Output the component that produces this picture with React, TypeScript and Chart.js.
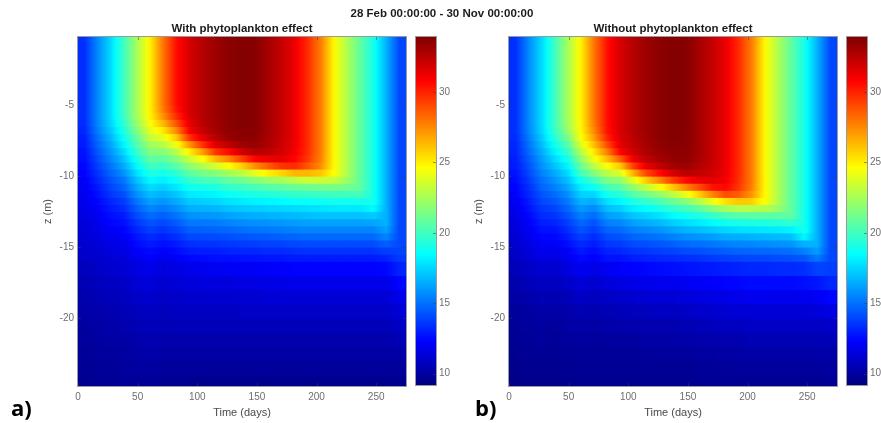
import React, { useEffect, useRef } from 'react';
import { Chart, registerables } from 'chart.js';

Chart.register(...registerables);

// ---------- text ----------
const MAIN_TITLE = '28 Feb 00:00:00 - 30 Nov 00:00:00';
const PANEL_TITLES = ['With phytoplankton effect', 'Without phytoplankton effect'];
const PANEL_LABELS = ['a)', 'b)'];
const X_LABEL = 'Time (days)';
const Y_LABEL = 'z (m)';

// ---------- axes ----------
const TIME_RANGE = [0, 275];
const DEPTH_RANGE = [-24.8, -0.2];
const TEMP_RANGE = [9.2, 33.9];
const X_TICKS = [0, 50, 100, 150, 200, 250];
const Y_TICKS = [-20, -15, -10, -5];
const CBAR_TICKS = [10, 15, 20, 25, 30];

// ---------- grid ----------
// time column centres (days)
const TIME_DAYS = [5.5, 16.5, 27.5, 38.5, 49.5, 60.5, 71.5, 82.5, 93.5, 104.5, 115.5, 126.5, 137.5, 148.5, 159.5, 170.5, 181.5, 192.5, 203.5, 214.5, 225.5, 236.5, 247.5, 258.5, 269.5];
// layer boundaries (m): 1 m layers near surface and bottom, 0.5 m through the thermocline
const DEPTH_EDGES = [0, -1, -2, -3, -4, -5, -5.5, -6, -6.5, -7, -7.5, -8, -8.5, -9, -9.5, -10, -10.5, -11, -11.5, -12, -12.5, -13, -13.5, -14, -14.5, -15, -15.5, -16, -17, -18, -19, -20, -21, -22, -23, -24, -25];

// temperature (°C): one inner array per time column, surface layer -> bottom layer (36 layers)
const TEMP_WITH = [
  [13.4, 13.4, 13.4, 13.4, 13.4, 13.4, 13.4, 13.3, 13.2, 13.0, 12.9, 12.7, 12.6, 12.4, 12.3, 12.1, 12.0, 11.9, 11.8, 11.7, 11.6, 11.4, 11.3, 11.2, 11.1, 11.0, 10.9, 10.7, 10.5, 10.3, 10.2, 10.0, 9.9, 9.8, 9.7, 9.6],
  [15.6, 15.6, 15.6, 15.6, 15.6, 15.6, 15.6, 15.5, 15.3, 15.0, 14.7, 14.4, 14.1, 13.8, 13.5, 13.2, 12.9, 12.6, 12.4, 12.2, 12.0, 11.8, 11.7, 11.5, 11.4, 11.2, 11.1, 10.9, 10.7, 10.5, 10.3, 10.1, 10.0, 9.9, 9.8, 9.7],
  [17.6, 17.6, 17.6, 17.6, 17.6, 17.6, 17.6, 17.4, 17.1, 16.7, 16.3, 15.9, 15.5, 15.1, 14.7, 14.3, 13.9, 13.6, 13.2, 12.9, 12.6, 12.4, 12.1, 11.9, 11.7, 11.5, 11.3, 11.1, 10.8, 10.6, 10.4, 10.2, 10.1, 9.9, 9.8, 9.7],
  [20.0, 20.0, 20.0, 20.0, 20.0, 20.0, 19.9, 19.6, 19.2, 18.7, 18.2, 17.6, 17.0, 16.4, 15.8, 15.2, 14.7, 14.2, 13.7, 13.3, 12.9, 12.6, 12.3, 12.0, 11.8, 11.6, 11.4, 11.2, 10.9, 10.7, 10.5, 10.3, 10.1, 10.0, 9.9, 9.8],
  [22.5, 22.5, 22.5, 22.5, 22.5, 22.5, 22.4, 22.1, 21.6, 21.0, 20.4, 19.8, 19.1, 18.4, 17.7, 17.0, 16.4, 15.8, 15.2, 14.6, 14.1, 13.6, 13.2, 12.8, 12.5, 12.2, 11.9, 11.6, 11.3, 11.0, 10.7, 10.5, 10.3, 10.1, 10.0, 9.8],
  [25.0, 25.0, 25.0, 25.0, 25.0, 25.0, 24.9, 24.5, 23.9, 23.2, 22.4, 21.6, 20.8, 20.0, 19.2, 18.4, 17.6, 16.9, 16.2, 15.5, 14.9, 14.3, 13.8, 13.3, 12.9, 12.5, 12.2, 11.8, 11.4, 11.1, 10.8, 10.6, 10.4, 10.2, 10.0, 9.8],
  [28.0, 28.0, 28.0, 28.0, 28.0, 27.8, 27.3, 26.4, 25.2, 24.0, 22.8, 21.7, 20.7, 19.8, 18.9, 18.1, 17.3, 16.6, 15.9, 15.2, 14.6, 14.0, 13.5, 13.0, 12.6, 12.2, 11.9, 11.5, 11.2, 10.9, 10.7, 10.5, 10.3, 10.1, 9.9, 9.7],
  [30.5, 30.5, 30.5, 30.5, 30.5, 30.3, 29.8, 28.8, 27.5, 26.0, 24.3, 22.9, 21.7, 20.6, 19.6, 18.7, 17.9, 17.1, 16.4, 15.7, 15.1, 14.5, 13.9, 13.4, 12.9, 12.5, 12.1, 11.6, 11.3, 11.0, 10.8, 10.6, 10.3, 10.1, 9.9, 9.7],
  [31.8, 31.8, 31.8, 31.8, 31.8, 31.8, 31.7, 31.4, 30.9, 29.6, 27.2, 25.0, 23.3, 21.9, 20.7, 19.7, 18.8, 18.0, 17.2, 16.5, 15.8, 15.2, 14.6, 14.0, 13.4, 12.9, 12.4, 11.8, 11.4, 11.1, 10.8, 10.6, 10.3, 10.1, 9.9, 9.6],
  [32.6, 32.6, 32.6, 32.6, 32.6, 32.6, 32.6, 32.5, 32.2, 31.4, 29.6, 27.0, 24.6, 22.8, 21.3, 20.1, 19.0, 18.1, 17.3, 16.6, 15.9, 15.2, 14.6, 14.0, 13.5, 13.0, 12.5, 11.9, 11.5, 11.1, 10.8, 10.6, 10.3, 10.1, 9.9, 9.6],
  [33.2, 33.2, 33.2, 33.2, 33.2, 33.2, 33.2, 33.1, 33.0, 32.6, 31.6, 29.6, 26.4, 23.6, 21.7, 20.3, 19.2, 18.3, 17.5, 16.7, 16.0, 15.3, 14.7, 14.1, 13.5, 13.0, 12.6, 12.0, 11.5, 11.1, 10.8, 10.6, 10.3, 10.1, 9.9, 9.6],
  [33.6, 33.6, 33.6, 33.6, 33.6, 33.6, 33.6, 33.6, 33.5, 33.3, 32.4, 30.6, 27.6, 24.6, 22.4, 20.9, 19.7, 18.7, 17.8, 17.0, 16.2, 15.5, 14.8, 14.2, 13.6, 13.1, 12.6, 12.0, 11.5, 11.1, 10.8, 10.6, 10.3, 10.1, 9.9, 9.6],
  [33.8, 33.8, 33.8, 33.8, 33.8, 33.8, 33.8, 33.8, 33.7, 33.6, 33.1, 31.9, 29.3, 25.8, 23.0, 21.2, 19.9, 18.9, 18.0, 17.2, 16.4, 15.7, 15.0, 14.3, 13.7, 13.2, 12.7, 12.1, 11.6, 11.2, 10.9, 10.6, 10.3, 10.1, 9.9, 9.6],
  [33.7, 33.7, 33.7, 33.7, 33.7, 33.7, 33.7, 33.7, 33.7, 33.6, 33.3, 32.6, 30.8, 27.4, 24.0, 21.7, 20.2, 19.1, 18.2, 17.3, 16.5, 15.8, 15.1, 14.4, 13.8, 13.2, 12.7, 12.1, 11.6, 11.2, 10.9, 10.6, 10.3, 10.1, 9.9, 9.6],
  [33.0, 33.0, 33.0, 33.0, 33.0, 33.0, 33.0, 33.0, 33.0, 32.9, 32.8, 32.4, 31.3, 28.6, 25.0, 22.2, 20.5, 19.3, 18.3, 17.4, 16.6, 15.9, 15.2, 14.5, 13.9, 13.3, 12.8, 12.2, 11.7, 11.3, 10.9, 10.6, 10.3, 10.1, 9.9, 9.6],
  [32.2, 32.2, 32.2, 32.2, 32.2, 32.2, 32.2, 32.2, 32.2, 32.2, 32.1, 31.9, 31.4, 29.6, 25.6, 22.5, 20.7, 19.5, 18.4, 17.5, 16.7, 16.0, 15.3, 14.6, 13.9, 13.3, 12.8, 12.2, 11.7, 11.3, 10.9, 10.6, 10.3, 10.1, 9.9, 9.6],
  [31.3, 31.3, 31.3, 31.3, 31.3, 31.3, 31.3, 31.3, 31.3, 31.3, 31.2, 31.1, 30.8, 29.8, 26.4, 23.0, 21.0, 19.7, 18.6, 17.6, 16.8, 16.1, 15.4, 14.7, 14.0, 13.4, 12.9, 12.3, 11.8, 11.3, 10.9, 10.6, 10.3, 10.1, 9.9, 9.6],
  [29.8, 29.8, 29.8, 29.8, 29.8, 29.8, 29.8, 29.8, 29.8, 29.8, 29.8, 29.7, 29.5, 28.8, 26.4, 23.4, 21.2, 19.8, 18.7, 17.7, 16.9, 16.2, 15.5, 14.8, 14.1, 13.5, 12.9, 12.3, 11.8, 11.3, 10.9, 10.6, 10.3, 10.1, 9.9, 9.6],
  [27.8, 27.8, 27.8, 27.8, 27.8, 27.8, 27.8, 27.8, 27.8, 27.8, 27.8, 27.8, 27.7, 27.4, 26.0, 23.4, 21.3, 19.9, 18.8, 17.8, 17.0, 16.2, 15.5, 14.8, 14.1, 13.5, 12.9, 12.3, 11.8, 11.3, 10.9, 10.6, 10.3, 10.1, 9.9, 9.6],
  [24.8, 24.8, 24.8, 24.8, 24.8, 24.8, 24.8, 24.8, 24.8, 24.8, 24.8, 24.8, 24.8, 24.8, 24.6, 23.2, 21.4, 20.0, 18.9, 17.9, 17.0, 16.2, 15.5, 14.8, 14.1, 13.5, 12.9, 12.3, 11.8, 11.3, 10.9, 10.6, 10.3, 10.1, 9.9, 9.6],
  [22.7, 22.7, 22.7, 22.7, 22.7, 22.7, 22.7, 22.7, 22.7, 22.7, 22.7, 22.7, 22.7, 22.7, 22.7, 22.3, 21.2, 20.0, 18.9, 17.9, 17.0, 16.2, 15.5, 14.8, 14.1, 13.5, 12.9, 12.3, 11.8, 11.3, 10.9, 10.6, 10.3, 10.1, 9.9, 9.6],
  [20.8, 20.8, 20.8, 20.8, 20.8, 20.8, 20.8, 20.8, 20.8, 20.8, 20.8, 20.8, 20.8, 20.8, 20.8, 20.8, 20.8, 20.1, 18.9, 17.9, 17.0, 16.2, 15.5, 14.8, 14.1, 13.5, 12.9, 12.3, 11.8, 11.3, 10.9, 10.6, 10.3, 10.1, 9.9, 9.6],
  [19.0, 19.0, 19.0, 19.0, 19.0, 19.0, 19.0, 19.0, 19.0, 19.0, 19.0, 19.0, 19.0, 19.0, 19.0, 19.0, 19.0, 19.0, 19.0, 18.4, 17.2, 16.3, 15.5, 14.8, 14.1, 13.5, 12.9, 12.3, 11.8, 11.3, 10.9, 10.6, 10.3, 10.1, 9.9, 9.6],
  [16.6, 16.6, 16.6, 16.6, 16.6, 16.6, 16.6, 16.6, 16.6, 16.6, 16.6, 16.6, 16.6, 16.6, 16.6, 16.6, 16.6, 16.6, 16.6, 16.6, 16.6, 16.6, 16.2, 15.5, 14.6, 13.8, 13.1, 12.4, 11.8, 11.3, 10.9, 10.6, 10.3, 10.1, 9.9, 9.6],
  [14.0, 14.0, 14.0, 14.0, 14.0, 14.0, 14.0, 14.0, 14.0, 14.0, 14.0, 14.0, 14.0, 14.0, 14.0, 14.0, 14.0, 14.0, 14.0, 14.0, 14.0, 14.0, 14.0, 14.0, 14.0, 13.9, 13.7, 13.1, 12.4, 11.8, 11.3, 10.9, 10.5, 10.1, 9.9, 9.6],
];

const TEMP_WITHOUT = [
  [13.4, 13.4, 13.4, 13.4, 13.4, 13.4, 13.4, 13.4, 13.4, 13.3, 13.2, 13.1, 13.0, 12.9, 12.7, 12.5, 12.3, 12.2, 12.0, 11.8, 11.7, 11.5, 11.4, 11.2, 11.1, 10.9, 10.8, 10.6, 10.3, 10.1, 9.9, 9.8, 9.7, 9.6, 9.5, 9.4],
  [15.6, 15.6, 15.6, 15.6, 15.6, 15.6, 15.6, 15.6, 15.5, 15.3, 15.0, 14.8, 14.5, 14.2, 14.0, 13.7, 13.4, 13.2, 12.9, 12.7, 12.4, 12.2, 12.0, 11.8, 11.6, 11.4, 11.2, 10.9, 10.6, 10.3, 10.0, 9.9, 9.8, 9.7, 9.6, 9.5],
  [17.6, 17.6, 17.6, 17.6, 17.6, 17.6, 17.6, 17.6, 17.5, 17.2, 16.9, 16.5, 16.1, 15.8, 15.4, 15.0, 14.7, 14.3, 14.0, 13.6, 13.3, 13.0, 12.7, 12.4, 12.1, 11.9, 11.6, 11.2, 10.8, 10.5, 10.2, 10.0, 9.9, 9.8, 9.6, 9.5],
  [20.0, 20.0, 20.0, 20.0, 20.0, 20.0, 20.0, 20.0, 19.8, 19.4, 18.8, 18.2, 17.6, 17.0, 16.4, 15.9, 15.4, 14.9, 14.4, 13.9, 13.5, 13.1, 12.7, 12.4, 12.1, 11.8, 11.5, 11.1, 10.7, 10.4, 10.1, 9.9, 9.8, 9.7, 9.6, 9.5],
  [22.5, 22.5, 22.5, 22.5, 22.5, 22.5, 22.5, 22.4, 22.1, 21.4, 20.6, 19.8, 19.0, 18.3, 17.6, 17.0, 16.4, 15.8, 15.3, 14.8, 14.3, 13.8, 13.4, 13.0, 12.6, 12.2, 11.9, 11.5, 11.0, 10.6, 10.3, 10.1, 9.9, 9.8, 9.7, 9.6],
  [25.0, 25.0, 25.0, 25.0, 25.0, 25.0, 25.0, 24.9, 24.8, 24.6, 23.8, 22.9, 21.9, 21.0, 20.1, 18.9, 18.1, 17.4, 16.7, 16.0, 15.4, 14.8, 14.3, 13.8, 13.3, 12.9, 12.5, 12.0, 11.4, 10.9, 10.5, 10.2, 10.0, 9.8, 9.7, 9.6],
  [28.0, 28.0, 28.0, 28.0, 28.0, 28.0, 28.0, 27.9, 27.6, 27.0, 26.2, 25.3, 24.3, 23.0, 21.6, 20.1, 18.7, 17.5, 16.5, 15.6, 14.9, 14.3, 13.8, 13.3, 12.9, 12.5, 12.2, 11.7, 11.1, 10.7, 10.4, 10.1, 9.9, 9.8, 9.7, 9.6],
  [30.5, 30.5, 30.5, 30.5, 30.5, 30.5, 30.5, 30.5, 30.4, 30.0, 29.0, 27.8, 26.3, 24.6, 23.0, 21.5, 20.1, 18.9, 17.8, 16.9, 16.1, 15.4, 14.7, 14.1, 13.6, 13.1, 12.7, 12.0, 11.4, 10.9, 10.5, 10.2, 10.0, 9.8, 9.7, 9.6],
  [31.8, 31.8, 31.8, 31.8, 31.8, 31.8, 31.8, 31.8, 31.8, 31.7, 31.5, 30.8, 28.6, 26.0, 23.8, 22.0, 20.6, 19.4, 18.3, 17.3, 16.4, 15.6, 14.9, 14.3, 13.7, 13.2, 12.7, 12.2, 11.6, 11.0, 10.6, 10.3, 10.0, 9.8, 9.7, 9.6],
  [32.6, 32.6, 32.6, 32.6, 32.6, 32.6, 32.6, 32.6, 32.6, 32.5, 32.3, 32.0, 31.3, 29.4, 26.6, 24.0, 22.0, 20.5, 19.2, 18.1, 17.1, 16.2, 15.4, 14.7, 14.1, 13.5, 13.0, 12.3, 11.7, 11.1, 10.7, 10.3, 10.0, 9.8, 9.7, 9.6],
  [33.2, 33.2, 33.2, 33.2, 33.2, 33.2, 33.2, 33.2, 33.2, 33.1, 33.0, 32.8, 32.4, 31.4, 29.2, 26.0, 23.2, 21.2, 19.7, 18.5, 17.4, 16.5, 15.6, 14.9, 14.2, 13.6, 13.1, 12.4, 11.8, 11.2, 10.7, 10.4, 10.1, 9.9, 9.7, 9.6],
  [33.6, 33.6, 33.6, 33.6, 33.6, 33.6, 33.6, 33.6, 33.6, 33.6, 33.5, 33.3, 33.0, 32.3, 30.6, 27.6, 24.4, 22.0, 20.3, 19.0, 17.8, 16.8, 15.9, 15.1, 14.4, 13.8, 13.2, 12.5, 11.9, 11.3, 10.8, 10.4, 10.1, 9.9, 9.7, 9.6],
  [33.8, 33.8, 33.8, 33.8, 33.8, 33.8, 33.8, 33.8, 33.8, 33.8, 33.7, 33.6, 33.4, 33.0, 31.8, 29.4, 26.0, 23.0, 21.0, 19.6, 18.4, 17.3, 16.3, 15.4, 14.6, 13.9, 13.3, 12.6, 11.9, 11.3, 10.8, 10.4, 10.1, 9.9, 9.7, 9.6],
  [33.7, 33.7, 33.7, 33.7, 33.7, 33.7, 33.7, 33.7, 33.7, 33.7, 33.7, 33.6, 33.5, 33.2, 32.5, 30.6, 27.6, 24.2, 21.7, 20.1, 18.8, 17.7, 16.7, 15.7, 14.9, 14.1, 13.4, 12.7, 12.0, 11.4, 10.9, 10.5, 10.2, 9.9, 9.7, 9.6],
  [33.0, 33.0, 33.0, 33.0, 33.0, 33.0, 33.0, 33.0, 33.0, 33.0, 33.0, 33.0, 32.9, 32.7, 32.3, 31.3, 29.0, 25.8, 22.8, 20.7, 19.2, 18.0, 16.9, 15.9, 15.0, 14.2, 13.5, 12.8, 12.1, 11.5, 11.0, 10.6, 10.3, 10.0, 9.8, 9.7],
  [32.2, 32.2, 32.2, 32.2, 32.2, 32.2, 32.2, 32.2, 32.2, 32.2, 32.2, 32.2, 32.2, 32.1, 31.9, 31.5, 30.4, 27.6, 24.2, 21.6, 19.8, 18.4, 17.2, 16.1, 15.2, 14.4, 13.7, 12.9, 12.2, 11.6, 11.1, 10.7, 10.3, 10.0, 9.8, 9.7],
  [31.3, 31.3, 31.3, 31.3, 31.3, 31.3, 31.3, 31.3, 31.3, 31.3, 31.3, 31.3, 31.3, 31.3, 31.2, 31.1, 30.7, 29.0, 25.4, 22.4, 20.3, 18.8, 17.5, 16.4, 15.4, 14.6, 13.8, 13.0, 12.3, 11.7, 11.2, 10.8, 10.4, 10.1, 9.9, 9.7],
  [29.8, 29.8, 29.8, 29.8, 29.8, 29.8, 29.8, 29.8, 29.8, 29.8, 29.8, 29.8, 29.8, 29.8, 29.8, 29.7, 29.5, 28.6, 26.0, 22.8, 20.6, 19.0, 17.7, 16.5, 15.5, 14.7, 13.9, 13.1, 12.4, 11.8, 11.3, 10.8, 10.4, 10.1, 9.9, 9.7],
  [27.8, 27.8, 27.8, 27.8, 27.8, 27.8, 27.8, 27.8, 27.8, 27.8, 27.8, 27.8, 27.8, 27.8, 27.8, 27.8, 27.7, 27.2, 25.8, 22.8, 20.7, 19.1, 17.8, 16.6, 15.6, 14.8, 14.0, 13.2, 12.5, 11.9, 11.3, 10.9, 10.5, 10.2, 9.9, 9.7],
  [24.8, 24.8, 24.8, 24.8, 24.8, 24.8, 24.8, 24.8, 24.8, 24.8, 24.8, 24.8, 24.8, 24.8, 24.8, 24.8, 24.8, 24.8, 24.5, 22.8, 20.8, 19.2, 17.9, 16.7, 15.7, 14.8, 14.0, 13.2, 12.5, 11.9, 11.3, 10.9, 10.5, 10.2, 9.9, 9.7],
  [22.7, 22.7, 22.7, 22.7, 22.7, 22.7, 22.7, 22.7, 22.7, 22.7, 22.7, 22.7, 22.7, 22.7, 22.7, 22.7, 22.7, 22.7, 22.7, 22.1, 20.7, 19.3, 18.0, 16.8, 15.8, 14.9, 14.1, 13.3, 12.5, 11.9, 11.3, 10.9, 10.5, 10.2, 9.9, 9.7],
  [20.8, 20.8, 20.8, 20.8, 20.8, 20.8, 20.8, 20.8, 20.8, 20.8, 20.8, 20.8, 20.8, 20.8, 20.8, 20.8, 20.8, 20.8, 20.8, 20.8, 20.8, 19.6, 18.2, 16.9, 15.9, 15.0, 14.2, 13.3, 12.5, 11.9, 11.3, 10.9, 10.5, 10.2, 9.9, 9.7],
  [19.0, 19.0, 19.0, 19.0, 19.0, 19.0, 19.0, 19.0, 19.0, 19.0, 19.0, 19.0, 19.0, 19.0, 19.0, 19.0, 19.0, 19.0, 19.0, 19.0, 19.0, 19.0, 19.0, 18.3, 16.6, 15.4, 14.4, 13.4, 12.6, 11.9, 11.3, 10.9, 10.5, 10.2, 9.9, 9.7],
  [16.6, 16.6, 16.6, 16.6, 16.6, 16.6, 16.6, 16.6, 16.6, 16.6, 16.6, 16.6, 16.6, 16.6, 16.6, 16.6, 16.6, 16.6, 16.6, 16.6, 16.6, 16.6, 16.6, 16.6, 16.6, 16.1, 15.2, 13.9, 12.8, 12.0, 11.4, 10.9, 10.5, 10.2, 9.9, 9.7],
  [14.0, 14.0, 14.0, 14.0, 14.0, 14.0, 14.0, 14.0, 14.0, 14.0, 14.0, 14.0, 14.0, 14.0, 14.0, 14.0, 14.0, 14.0, 14.0, 14.0, 14.0, 14.0, 14.0, 14.0, 14.0, 14.0, 14.0, 13.8, 13.2, 12.4, 11.6, 11.0, 10.6, 10.2, 10.0, 9.8],
];

// ---------- styling ----------
const FONT = '"Liberation Sans", Arial, Helvetica, sans-serif';
const TICK_COLOR = '#6e6e6e';
const LABEL_COLOR = '#4a4a4a';
const TITLE_COLOR = '#1c1c1c';
const FRAME_COLOR = '#9a9a9a';

const clamp01 = (v: number) => Math.max(0, Math.min(1, v));
function jetRGB(f: number): [number, number, number] {
  return [clamp01(1.5 - Math.abs(4 * f - 3)), clamp01(1.5 - Math.abs(4 * f - 2)), clamp01(1.5 - Math.abs(4 * f - 1))];
}
function jetColor(v: number): string {
  const f = clamp01((v - TEMP_RANGE[0]) / (TEMP_RANGE[1] - TEMP_RANGE[0]));
  const [r, g, b] = jetRGB(f);
  return `rgb(${Math.round(r * 255)},${Math.round(g * 255)},${Math.round(b * 255)})`;
}

const framePlugin = (vertTicksBothSides: boolean, horizTicks: boolean) => ({
  id: 'frameBox',
  afterDatasetsDraw(chart: any) {
    const { ctx, chartArea: a, scales } = chart;
    ctx.save();
    ctx.strokeStyle = FRAME_COLOR;
    ctx.lineWidth = 1;
    ctx.strokeRect(a.left - 0.5, a.top - 0.5, a.right - a.left + 1, a.bottom - a.top + 1);
    ctx.strokeStyle = 'rgba(60,60,60,0.5)';
    const len = 3;
    if (horizTicks && scales.x) {
      for (const t of scales.x.ticks) {
        const px = Math.round(scales.x.getPixelForValue(t.value)) + 0.5;
        ctx.beginPath();
        ctx.moveTo(px, a.bottom); ctx.lineTo(px, a.bottom - len);
        ctx.moveTo(px, a.top); ctx.lineTo(px, a.top + len);
        ctx.stroke();
      }
    }
    if (scales.y) {
      for (const t of scales.y.ticks) {
        const py = Math.round(scales.y.getPixelForValue(t.value)) + 0.5;
        ctx.beginPath();
        ctx.moveTo(a.right, py); ctx.lineTo(a.right - len, py);
        if (vertTicksBothSides) { ctx.moveTo(a.left, py); ctx.lineTo(a.left + len, py); }
        ctx.stroke();
      }
    }
    ctx.restore();
  },
});

// each cell is filled with a horizontal colour ramp that meets its neighbours at the cell edges
function cellFill(temps: number[][], r: number) {
  return (ctx: any) => {
    const c = ctx.dataIndex;
    if (ctx.type !== 'data' || c === undefined || !temps[c]) return jetColor(temps[0][r]);
    const v = temps[c][r];
    const xs = ctx.chart.scales && ctx.chart.scales.x;
    if (!xs) return jetColor(v);
    const half = (TIME_DAYS[1] - TIME_DAYS[0]) / 2;
    const x0 = xs.getPixelForValue(TIME_DAYS[c] - half);
    const x1 = xs.getPixelForValue(TIME_DAYS[c] + half);
    if (!Number.isFinite(x0) || !Number.isFinite(x1) || x1 - x0 < 1) return jetColor(v);
    const vl = c > 0 ? (temps[c - 1][r] + v) / 2 : v;
    const vr = c < TIME_DAYS.length - 1 ? (temps[c + 1][r] + v) / 2 : v;
    const g = ctx.chart.ctx.createLinearGradient(x0, 0, x1, 0);
    g.addColorStop(0, jetColor(vl));
    g.addColorStop(0.25, jetColor((vl + v) / 2));
    g.addColorStop(0.5, jetColor(v));
    g.addColorStop(0.75, jetColor((vr + v) / 2));
    g.addColorStop(1, jetColor(vr));
    return g;
  };
}

function heatmapConfig(temps: number[][], title: string, rightPad: number): any {
  const datasets = DEPTH_EDGES.slice(0, -1).map((top, r) => ({
    data: TIME_DAYS.map((t) => ({ x: t, y: [DEPTH_EDGES[r + 1], top] })),
    backgroundColor: cellFill(temps, r),
    borderWidth: 0,
    barPercentage: 1,
    categoryPercentage: 1,
    grouped: false,
    inflateAmount: 0.6,
  }));
  return {
    type: 'bar',
    data: { datasets },
    plugins: [framePlugin(true, true)],
    options: {
      responsive: false,
      animation: false,
      events: [],
      layout: { padding: { left: 0, right: rightPad, top: 0, bottom: 0 } },
      plugins: {
        legend: { display: false },
        tooltip: { enabled: false },
        title: {
          display: true,
          text: title,
          fullSize: false,
          color: TITLE_COLOR,
          font: { family: FONT, size: 11.5, weight: 'bold' },
          padding: { top: 21.6, bottom: 1.6 },
        },
      },
      scales: {
        x: {
          type: 'linear',
          offset: false,
          min: TIME_RANGE[0],
          max: TIME_RANGE[1],
          afterBuildTicks: (s: any) => { s.ticks = X_TICKS.map((v) => ({ value: v })); },
          afterFit: (s: any) => { s.height = 37; },
          grid: { display: false, drawTicks: false, offset: false },
          border: { display: false },
          ticks: { color: TICK_COLOR, font: { family: FONT, size: 10 }, padding: 5, maxRotation: 0, autoSkip: false },
          title: { display: true, text: X_LABEL, color: LABEL_COLOR, font: { family: FONT, size: 11 }, padding: { top: 0, bottom: 3.9 } },
        },
        y: {
          type: 'linear',
          min: DEPTH_RANGE[0],
          max: DEPTH_RANGE[1],
          afterBuildTicks: (s: any) => { s.ticks = Y_TICKS.map((v) => ({ value: v })); },
          afterFit: (s: any) => { s.width = 78; },
          grid: { display: false, drawTicks: false },
          border: { display: false },
          ticks: { color: TICK_COLOR, font: { family: FONT, size: 10 }, padding: 4, autoSkip: false },
          title: { display: true, text: Y_LABEL, color: LABEL_COLOR, font: { family: FONT, size: 11 }, padding: { top: 41, bottom: 0 } },
        },
      },
    },
  };
}

function colorbarConfig(axisWidth: number): any {
  return {
    type: 'bar',
    data: {
      labels: [''],
      datasets: [{
        data: [[TEMP_RANGE[0], TEMP_RANGE[1]]],
        backgroundColor: (ctx: any) => {
          const { chart } = ctx;
          const a = chart.chartArea;
          const ys = chart.scales && chart.scales.y;
          if (!a || !ys) return '#00f';
          const y0 = ys.getPixelForValue(TEMP_RANGE[0]);
          const y1 = ys.getPixelForValue(TEMP_RANGE[1]);
          if (!Number.isFinite(y0) || !Number.isFinite(y1) || Math.abs(y0 - y1) < 1) return '#00f';
          const g = chart.ctx.createLinearGradient(0, y0, 0, y1);
          [0, 0.125, 0.375, 0.625, 0.875, 1].forEach((f) => {
            const [r, gg, b] = jetRGB(f);
            g.addColorStop(f, `rgb(${Math.round(r * 255)},${Math.round(gg * 255)},${Math.round(b * 255)})`);
          });
          return g;
        },
        borderWidth: 0,
        barPercentage: 1,
        categoryPercentage: 1,
      }],
    },
    plugins: [framePlugin(false, false)],
    options: {
      responsive: false,
      animation: false,
      events: [],
      layout: { padding: { left: 16, right: 0, top: 37, bottom: 38 } },
      plugins: { legend: { display: false }, tooltip: { enabled: false }, title: { display: false } },
      scales: {
        x: { type: 'category', display: false },
        y: {
          type: 'linear',
          position: 'right',
          min: TEMP_RANGE[0],
          max: TEMP_RANGE[1],
          afterBuildTicks: (s: any) => { s.ticks = CBAR_TICKS.map((v) => ({ value: v })); },
          afterFit: (s: any) => { s.width = axisWidth; },
          grid: { display: false, drawTicks: false },
          border: { display: false },
          ticks: { color: TICK_COLOR, font: { family: FONT, size: 10 }, padding: 3, autoSkip: false },
        },
      },
    },
  };
}

function overlayConfig(): any {
  return {
    type: 'bar',
    data: { labels: [], datasets: [] },
    plugins: [{
      id: 'panelLabels',
      afterDraw(chart: any) {
        const { ctx } = chart;
        ctx.save();
        ctx.fillStyle = '#000';
        ctx.font = 'bold 22px "Open Sans", "Liberation Sans", sans-serif';
        ctx.textBaseline = 'alphabetic';
        ctx.textAlign = 'left';
        ctx.fillText(PANEL_LABELS[0], 11, 416);
        ctx.fillText(PANEL_LABELS[1], 475, 416);
        ctx.restore();
      },
    }],
    options: {
      responsive: false,
      animation: false,
      events: [],
      layout: { padding: { left: 3, right: 0, top: 0, bottom: 0 } },
      plugins: {
        legend: { display: false },
        tooltip: { enabled: false },
        title: {
          display: true,
          text: MAIN_TITLE,
          color: TITLE_COLOR,
          font: { family: FONT, size: 11.5, weight: 'bold' },
          padding: { top: 7, bottom: 0 },
        },
      },
      scales: { x: { display: false }, y: { display: false } },
    },
  };
}

export default function App() {
  const overlayRef = useRef<HTMLCanvasElement>(null);
  const aRef = useRef<HTMLCanvasElement>(null);
  const aBarRef = useRef<HTMLCanvasElement>(null);
  const bRef = useRef<HTMLCanvasElement>(null);
  const bBarRef = useRef<HTMLCanvasElement>(null);

  useEffect(() => {
    const charts: Chart[] = [];
    if (overlayRef.current) charts.push(new Chart(overlayRef.current, overlayConfig()));
    if (aRef.current) charts.push(new Chart(aRef.current, heatmapConfig(TEMP_WITH, PANEL_TITLES[0], 54)));
    if (aBarRef.current) charts.push(new Chart(aBarRef.current, colorbarConfig(24)));
    if (bRef.current) charts.push(new Chart(bRef.current, heatmapConfig(TEMP_WITHOUT, PANEL_TITLES[1], 44)));
    if (bBarRef.current) charts.push(new Chart(bBarRef.current, colorbarConfig(14)));
    return () => charts.forEach((c) => c.destroy());
  }, []);

  const abs = (left: number, width: number): React.CSSProperties => ({ position: 'absolute', left, top: 0, width, height: 423 });

  return (
    <div style={{ position: 'fixed', left: 0, top: 0, width: 881, height: 423, background: '#fff', overflow: 'hidden' }}>
      <canvas ref={overlayRef} width={881} height={423} style={abs(0, 881)} />
      <canvas ref={aRef} width={460} height={423} style={abs(0, 460)} />
      <canvas ref={aBarRef} width={60} height={423} style={abs(400, 60)} />
      <canvas ref={bRef} width={450} height={423} style={abs(431, 450)} />
      <canvas ref={bBarRef} width={50} height={423} style={abs(831, 50)} />
    </div>
  );
}
